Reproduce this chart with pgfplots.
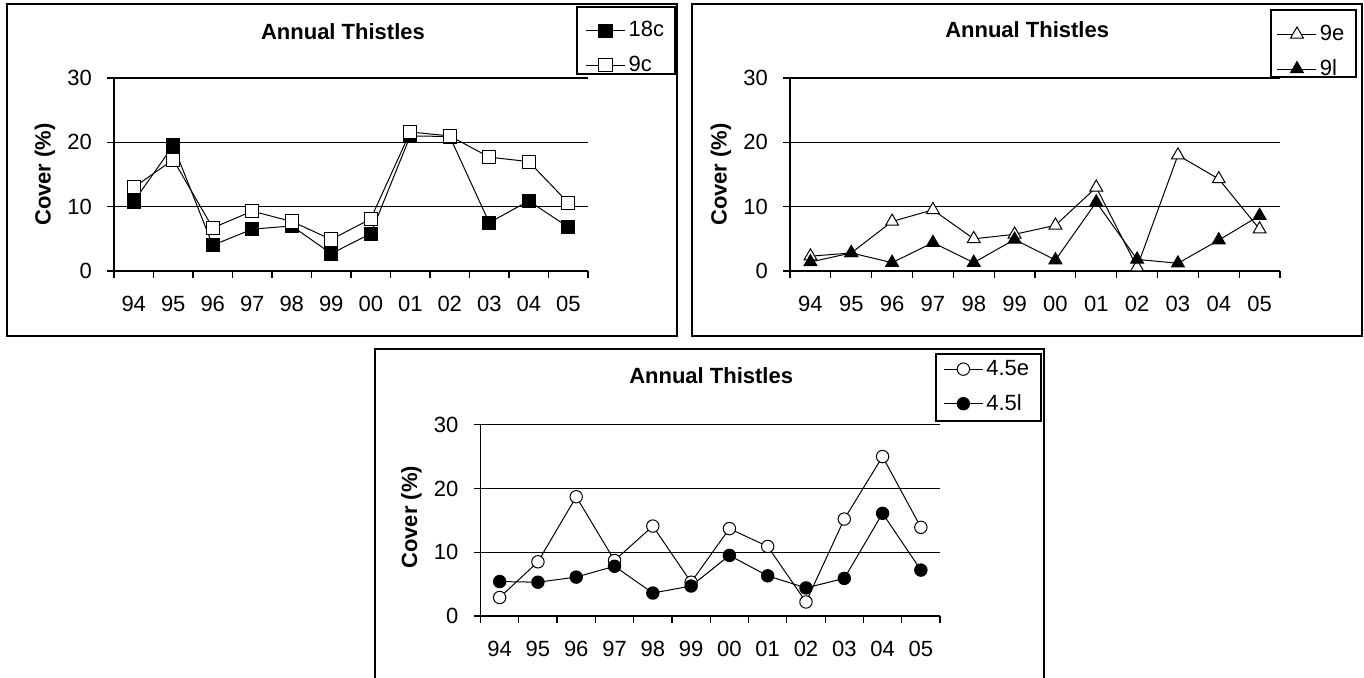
\documentclass[border=0pt]{standalone}
\usepackage{pgfplots}
\pgfplotsset{compat=1.18}
\usepackage{pgfplotstable}
\usepackage{fontspec}
\setmainfont{Liberation Sans}

\pgfplotstableread{
x a b
0 10.8 13.0
1 19.5 17.3
2 4.0 6.7
3 6.5 9.3
4 7.0 7.7
5 2.7 4.9
6 5.8 8.1
7 21.0 21.6
8 20.9 21.0
9 7.5 17.7
10 10.9 17.0
11 6.8 10.6
}\tabA
\pgfplotstableread{
x a b
0 2.3 1.4
1 2.8 2.8
2 7.7 1.3
3 9.5 4.4
4 5.0 1.3
5 5.7 4.9
6 7.1 1.7
7 13.0 10.7
8 0.6 1.8
9 18.0 1.2
10 14.3 4.8
11 6.5 8.6
}\tabB
\pgfplotstableread{
x a b
0 2.9 5.4
1 8.5 5.3
2 18.7 6.1
3 8.7 7.8
4 14.1 3.6
5 5.3 4.7
6 13.7 9.5
7 10.9 6.3
8 2.2 4.4
9 15.2 5.9
10 25.0 16.1
11 13.9 7.2
}\tabC

\newcommand{\fs}{\fontsize{11}{13}\selectfont}

\pgfplotsset{
  thistle/.style={
    scale only axis,
    clip=false,
    xmin=-0.5, xmax=11.5, ymin=0, ymax=30,
    ytick={0,10,20,30},
    xtick={0,...,11},
    xticklabels={94,95,96,97,98,99,00,01,02,03,04,05},
    minor xtick={-0.5,0.5,...,11.5},
    major x tick style={draw=none},
    axis x line*=bottom, axis y line*=left,
    axis line style={black, line width=0.6pt, -},
    tick align=outside,
    tick style={black, line width=0.6pt},
    major tick length=3.5pt, minor tick length=3.5pt,
    ymajorgrids,
    grid style={black, line width=0.6pt},
    /pgf/number format/assume math mode=true,
    tick label style={font=\fs},
    xticklabel style={yshift=-5.5pt},
    yticklabel style={xshift=-4pt},
    every axis title/.style={anchor=center, font=\fs\bfseries},
    every axis y label/.style={at={(rel axis cs:0,0.5)}, xshift=-34.5pt, rotate=90, anchor=center, font=\fs\bfseries},
    legend image code/.code={\draw[mark repeat=2,mark phase=2,##1] plot coordinates {(0pt,0pt) (9.75pt,0pt) (19.5pt,0pt)};},
    legend style={draw=none, fill=none, inner sep=0pt, row sep=5pt, font=\fs, anchor=west,
      nodes={inner sep=1.5pt}},
    legend cell align=left,
    every axis plot/.append style={black, line width=0.5pt, mark options={line width=0.6pt, solid}},
  }
}

\begin{document}
\begin{tikzpicture}
\begin{scope}[x=0.5pt,y=-0.5pt,yshift=339pt]
\path[use as bounding box] (0,0) rectangle (1364,678);
% chart frames
\draw[line width=0.75pt] (7,4) rectangle (677,336);
\draw[line width=0.75pt] (692,4) rectangle (1362,336);
\draw[line width=0.75pt] (375,678) -- (375,349) -- (1044,349) -- (1044,678);
% legend boxes
\draw[line width=0.6pt] (577,7) rectangle (675,74);
\draw[line width=0.6pt] (1271,10) rectangle (1356,77);
\draw[line width=0.6pt] (936,354) rectangle (1041,421);
\end{scope}

\begin{axis}[thistle, at={(57pt,203.5pt)}, anchor=south west,
  width=237pt, height=96.5pt,
  title={Annual Thistles}, title style={at={(0.483,1)}, yshift=23pt},
  ylabel={Cover (\%)},
  legend style={at={(0.994,1.156)}}]
\addplot[mark=square*, mark size=3.3pt, mark options={fill=black}] table[x=x,y=a] {\tabA};
\addlegendentry{18c}
\addplot[mark=square*, mark size=3.3pt, mark options={fill=white}] table[x=x,y=b] {\tabA};
\addlegendentry{9c}
\end{axis}

\begin{axis}[thistle, at={(395pt,203.5pt)}, anchor=south west,
  width=245pt, height=96.5pt,
  title={Annual Thistles}, title style={at={(0.484,1)}, yshift=24pt},
  ylabel={Cover (\%)},
  legend style={at={(0.993,1.1355)}}]
\addplot[mark=triangle*, mark size=3.7pt, mark options={fill=white}] table[x=x,y=a] {\tabB};
\addlegendentry{9e}
\addplot[mark=triangle*, mark size=3.7pt, mark options={fill=black}] table[x=x,y=b] {\tabB};
\addlegendentry{9l}
\end{axis}

\begin{axis}[thistle, at={(240.25pt,31pt)}, anchor=south west,
  width=229.75pt, height=95.65pt,
  title={Annual Thistles}, title style={at={(0.502,1)}, yshift=24.3pt},
  ylabel={Cover (\%)},
  every axis y label/.append style={xshift=1.5pt},
  legend style={at={(1.0065,1.199)}}]
\addplot[mark=*, mark size=3.1pt, mark options={fill=white}] table[x=x,y=a] {\tabC};
\addlegendentry{4.5e}
\addplot[mark=*, mark size=3.1pt, mark options={fill=black}] table[x=x,y=b] {\tabC};
\addlegendentry{4.5l}
\end{axis}
\end{tikzpicture}
\end{document}
